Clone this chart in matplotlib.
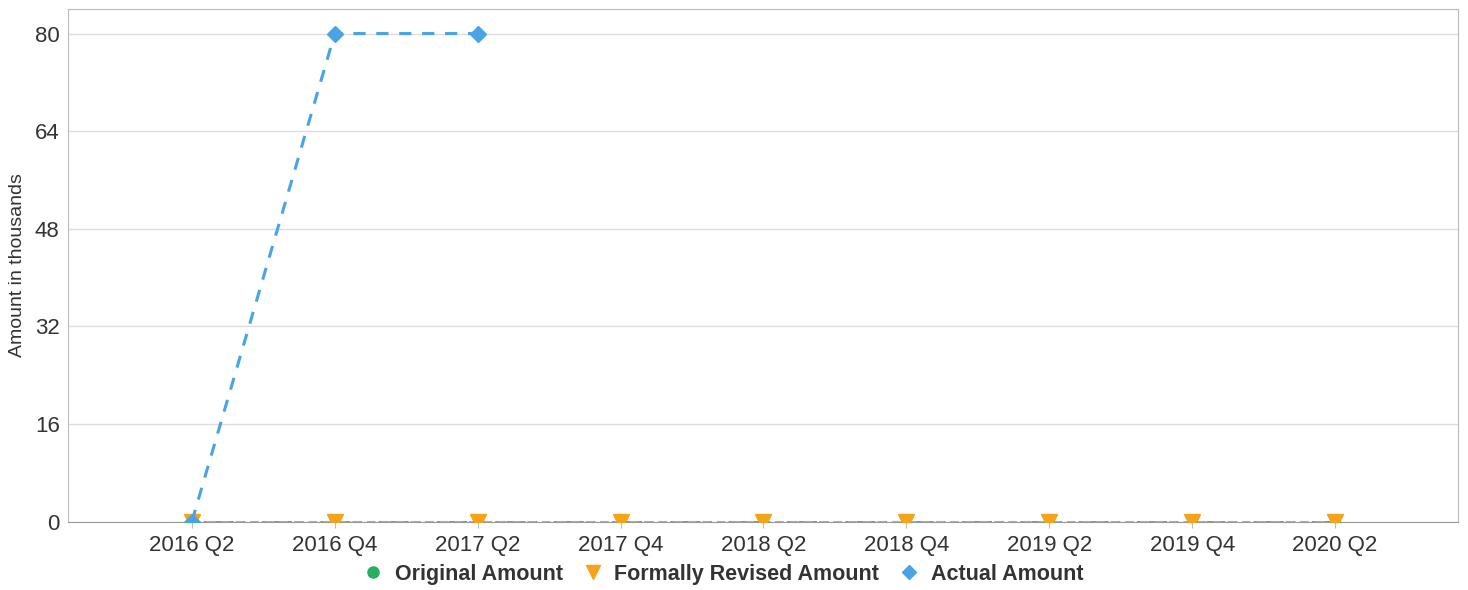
import numpy as np
import matplotlib.pyplot as plt
from matplotlib.lines import Line2D

plt.rcParams['font.family'] = ['Liberation Sans', 'DejaVu Sans']

# semi-annual periods
periods = ['2016 Q2', '2016 Q4', '2017 Q2', '2017 Q4', '2018 Q2',
           '2018 Q4', '2019 Q2', '2019 Q4', '2020 Q2']
original = [0, 0, 0, 0, 0, 0, 0, 0, 0]
revised = [0, 0, 0, 0, 0, 0, 0, 0, 0]
actual = [0, 80, 80]

green = '#27ae60'
orange = '#f5a31a'
blue = '#4aa3e3'

fig = plt.figure(figsize=(14.68, 5.9), dpi=100)
ax = fig.add_axes([0.0463, 0.116, 0.9469, 0.8695])
x = np.arange(len(periods))

ax.plot(x, original, color=green, lw=1.2, ls=(0, (4, 3)), marker='o', ms=7, zorder=3)
ax.plot(x, revised, color=orange, lw=1.5, ls=(0, (4, 3)), marker='v', ms=11, zorder=4)
ax.plot(x[:len(actual)], actual, color=blue, lw=2.2, ls=(0, (4, 3.5)), marker='D', ms=8, zorder=5)

ax.set_xlim(-0.867, 8.86)
ax.set_ylim(0, 84.1)
ax.set_xticks(x)
ax.set_xticklabels(periods, fontsize=16, color='#333333')
ax.set_yticks([0, 16, 32, 48, 64, 80])
ax.tick_params(axis='y', length=0, labelsize=16, labelcolor='#333333', pad=6)
ax.tick_params(axis='x', length=4, color='#bbbbbb', pad=6)
ax.set_ylabel('Amount in thousands', fontsize=14, color='#333333', labelpad=6)
ax.grid(axis='y', color='#dddddd', lw=1)
ax.set_axisbelow(True)
for s in ax.spines.values():
    s.set_color('#bbbbbb')
ax.spines['bottom'].set_color('#999999')

handles = [
    Line2D([], [], color=green, marker='o', ls='none', ms=8),
    Line2D([], [], color=orange, marker='v', ls='none', ms=10),
    Line2D([], [], color=blue, marker='D', ls='none', ms=7),
]
fig.legend(handles, ['Original Amount', 'Formally Revised Amount', 'Actual Amount'],
           loc='center', bbox_to_anchor=(0.4925, 0.027), ncol=3, frameon=False,
           prop={'weight': 'bold', 'size': 15.5}, handlelength=1.0,
           handletextpad=0.5, columnspacing=0.9, labelcolor='#333333')

fig.savefig('out.png', dpi=100)
